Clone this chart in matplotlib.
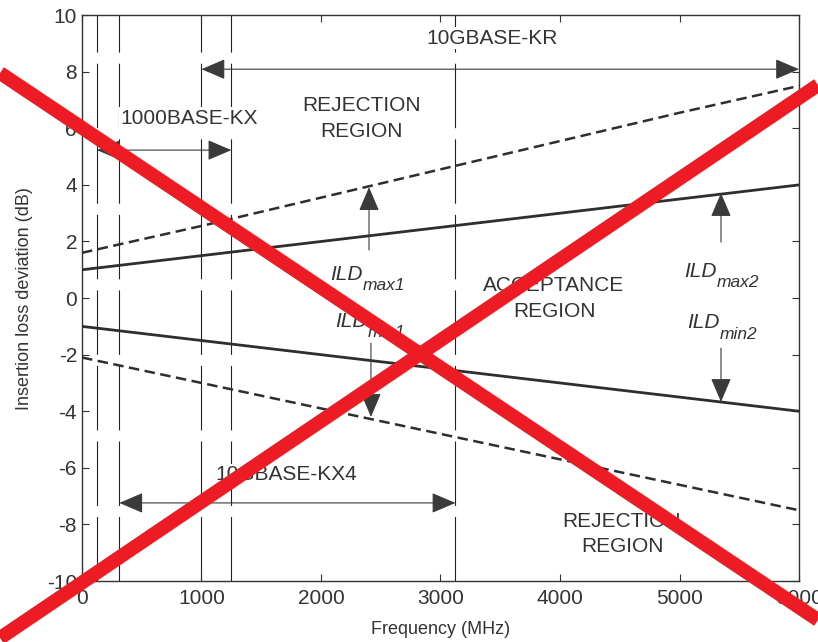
import matplotlib as mpl
mpl.use('Agg')
import matplotlib.pyplot as plt
from matplotlib.lines import Line2D

plt.rcParams['font.family'] = ['Liberation Sans', 'DejaVu Sans']
plt.rcParams['axes.unicode_minus'] = False

# frequency samples (MHz) and mask limits (dB)
freq = [0, 1000, 2000, 3000, 4000, 5000, 6000]
ild_max1 = [1.6, 2.55, 3.55, 4.55, 5.55, 6.55, 7.5]      # dashed upper
ild_max2 = [1.0, 1.5, 2.0, 2.5, 3.0, 3.5, 4.0]           # solid upper
ild_min2 = [-1.0, -1.5, -2.0, -2.5, -3.0, -3.5, -4.0]    # solid lower
ild_min1 = [-2.1, -3.0, -3.9, -4.8, -5.7, -6.6, -7.5]    # dashed lower

band_edges = [125, 312.5, 1000, 1250, 3125]

dark = '#2e2e2e'
txt = '#333333'

fig = plt.figure(figsize=(8.18, 6.42), dpi=100)
ax = fig.add_axes([0.1002, 0.095, 0.8766, 0.8814])

# vertical dashed band edges
for f in band_edges:
    ax.axvline(f, color='#222222', lw=0.8, ls=(0, (58, 10)), zorder=1)

ax.plot(freq, ild_max2, color=dark, lw=2.0, zorder=3)
ax.plot(freq, ild_min2, color=dark, lw=2.0, zorder=3)
ax.plot(freq, ild_max1, color=dark, lw=1.8, ls=(0, (4.2, 2.2)), zorder=3)
ax.plot(freq, ild_min1, color=dark, lw=1.8, ls=(0, (4.2, 2.2)), zorder=3)

ax.set_xlim(0, 6000)
ax.set_ylim(-10, 10)
ax.set_xticks(range(0, 6001, 1000))
ax.set_yticks(range(-10, 11, 2))
ax.tick_params(direction='in', top=True, right=True, labelsize=15,
               colors=txt, length=5, width=0.8)
ax.tick_params(axis='x', pad=6)
for s in ax.spines.values():
    s.set_color('#333333')
    s.set_linewidth(1.0)

ax.set_xlabel('Frequency (MHz)', fontsize=13, color=txt, labelpad=9)
ax.set_ylabel('Insertion loss deviation (dB)', fontsize=13, color=txt, labelpad=10)

head = '-|>,head_length=0.75,head_width=0.32'
dhead = '<|-|>,head_length=0.75,head_width=0.32'

def arrow(x0, y0, x1, y1, style=head):
    ax.annotate('', xy=(x1, y1), xytext=(x0, y0),
                arrowprops=dict(arrowstyle=style, color='#3a3a3a', lw=0.8,
                                mutation_scale=20, shrinkA=0, shrinkB=0),
                zorder=4)

white = dict(facecolor='white', edgecolor='none', pad=1)

# standard span arrows
arrow(1000, 8.09, 6000, 8.09, dhead)
arrow(125, 5.23, 1250, 5.23, dhead)
arrow(312.5, -7.24, 3125, -7.24, dhead)
ax.text(3431, 9.19, '10GBASE-KR', fontsize=15, color=txt, ha='center', va='center', bbox=white, zorder=2)
ax.text(895, 6.36, '1000BASE-KX', fontsize=15, color=txt, ha='center', va='center', bbox=white, zorder=2)
ax.text(1707, -6.25, '10GBASE-KX4', fontsize=15, color=txt, ha='center', va='center', bbox=white, zorder=2)

ax.text(2339, 6.36, 'REJECTION\nREGION', fontsize=15, color=txt, ha='center', va='center',
        linespacing=1.45, zorder=2)
ax.text(3950, -0.02, 'ACCEPTANCE\nREGION', fontsize=15, color=txt, ha='center', va='center',
        linespacing=1.45, zorder=2)
ax.text(4519, -8.34, 'REJECTION\nREGION', fontsize=15, color=txt, ha='center', va='center',
        linespacing=1.45, zorder=2)

# ILD limit labels and arrows
def ild(x, y, sub, ysub):
    ax.text(x, y, 'ILD', fontsize=15, style='italic', color=txt, ha='right', va='baseline')
    ax.text(x, ysub, sub, fontsize=12.5, style='italic', color=txt, ha='left', va='baseline')

ild(2351, 0.64, 'max1', 0.28)
ild(2389, -1.02, 'min1', -1.38)
ild(5314, 0.74, 'max2', 0.39)
ild(5339, -1.06, 'min2', -1.45)
arrow(2402, 1.70, 2402, 3.92)
arrow(2418, -1.59, 2418, -4.2)
arrow(5347, 1.98, 5347, 3.71)
arrow(5347, -1.77, 5347, -3.67)

# red cross over the whole figure
W, H = 818.0, 642.0
for (xa, ya), (xb, yb) in [((0, 73), (818, 620)), ((0, 638), (818, 85))]:
    fig.add_artist(Line2D([xa / W, xb / W], [1 - ya / H, 1 - yb / H],
                          transform=fig.transFigure, color='#ED1C24', lw=10,
                          solid_capstyle='butt', zorder=10))

plt.savefig('out.png', dpi=100)
